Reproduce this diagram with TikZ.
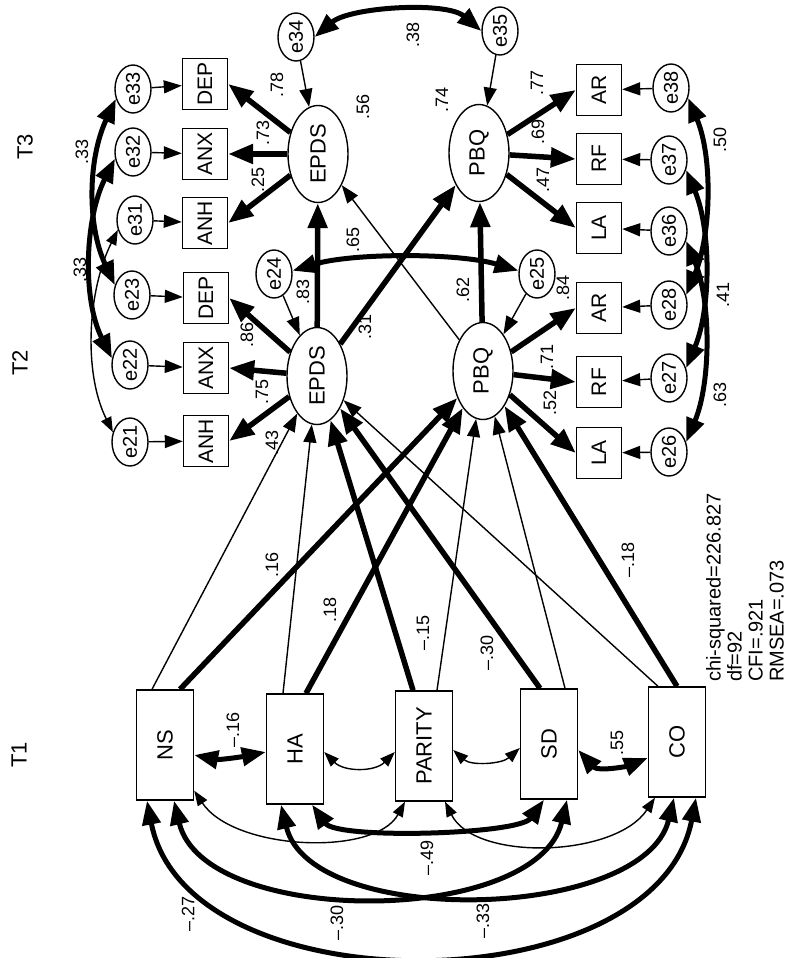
\documentclass[tikz,border=0pt]{standalone}
\usepackage{fontspec}
\setmainfont{Liberation Sans}
\usepackage{graphicx}
\usetikzlibrary{shapes.geometric, arrows.meta, calc}
\newcommand{\vtext}[1]{\rotatebox{90}{\makebox[0pt]{#1}}}

\begin{document}
\begin{tikzpicture}[x=1pt, y=-1pt,
  t1box/.style={rectangle, draw, fill=white, line width=1.4pt, minimum width=57pt, minimum height=110pt, inner sep=0pt, font=\fontsize{22}{22}\selectfont},
  indbox/.style={rectangle, draw, fill=white, line width=1.4pt, minimum width=45pt, minimum height=51pt, inner sep=0pt, font=\fontsize{21}{21}\selectfont},
  latent/.style={ellipse, draw, fill=white, line width=1.4pt, minimum width=60pt, minimum height=97pt, inner sep=0pt, font=\fontsize{22}{22}\selectfont},
  errc/.style={ellipse, draw, fill=white, line width=1.4pt, minimum width=36pt, minimum height=48pt, inner sep=0pt, font=\fontsize{20}{20}\selectfont},
  bigarr/.style={line width=5.5pt, -{Triangle[length=25pt, width=19pt]}},
  thinarr/.style={line width=1.4pt, -{Triangle[length=18pt, width=13pt]}},
  bigcov/.style={line width=5pt, {Triangle[length=24pt, width=18pt]}-{Triangle[length=24pt, width=18pt]}},
  thincov/.style={line width=1.4pt, {Triangle[length=15pt, width=11pt]}-{Triangle[length=15pt, width=11pt]}},
  coef/.style={rotate=90, inner sep=0pt, font=\fontsize{18}{18}\selectfont},
  wavelbl/.style={rotate=90, inner sep=0pt, font=\fontsize{22}{22}\selectfont},
  fitlbl/.style={rotate=90, align=left, inner sep=0pt, font=\fontsize{20}{21}\selectfont},
]
  \useasboundingbox (0,0) rectangle (797,958);

  \node[wavelbl] (w1) at (19,755) {T1};
  \node[wavelbl] (w2) at (20,363) {T2};
  \node[wavelbl] (w3) at (25,147) {T3};

  \node[t1box] (NS) at (165,745) {\vtext{NS}};
  \node[t1box] (HA) at (295,749) {\vtext{HA}};
  \node[t1box] (PAR) at (424,746) {\vtext{PARITY}};
  \node[t1box] (SD) at (549,744) {\vtext{SD}};
  \node[t1box] (CO) at (677,742) {\vtext{CO}};

  \node[latent] (EPDS2) at (317,376) {\vtext{EPDS}};
  \node[latent] (PBQ2) at (483,371) {\vtext{PBQ}};
  \node[latent] (EPDS3) at (318,154) {\vtext{EPDS}};
  \node[latent] (PBQ3) at (479,153) {\vtext{PBQ}};

  \node[indbox] (ANH2) at (206,441) {\vtext{ANH}};
  \node[indbox] (ANX2) at (206,368) {\vtext{ANX}};
  \node[indbox] (DEP2) at (206,298) {\vtext{DEP}};
  \node[indbox] (ANH3) at (205,223) {\vtext{ANH}};
  \node[indbox] (ANX3) at (205,154) {\vtext{ANX}};
  \node[indbox] (DEP3) at (205,84) {\vtext{DEP}};
  \node[indbox] (AR3) at (599,90) {\vtext{AR}};
  \node[indbox] (RF3) at (599,159) {\vtext{RF}};
  \node[indbox] (LA3) at (599,228) {\vtext{LA}};
  \node[indbox] (AR2) at (599,308) {\vtext{AR}};
  \node[indbox] (RF2) at (599,382) {\vtext{RF}};
  \node[indbox] (LA2) at (599,453) {\vtext{LA}};

  \node[errc] (e21) at (130,442) {\vtext{e21}};
  \node[errc] (e22) at (130,365) {\vtext{e22}};
  \node[errc] (e23) at (132,295) {\vtext{e23}};
  \node[errc] (e31) at (135,220) {\vtext{e31}};
  \node[errc] (e32) at (133,152) {\vtext{e32}};
  \node[errc] (e33) at (133,89) {\vtext{e33}};
  \node[errc] (e24) at (274,274) {\vtext{e24}};
  \node[errc] (e34) at (296,37) {\vtext{e34}};
  \node[errc] (e35) at (500,31) {\vtext{e35}};
  \node[errc] (e25) at (537,274) {\vtext{e25}};
  \node[errc] (e38) at (671,88) {\vtext{e38}};
  \node[errc] (e37) at (669,160) {\vtext{e37}};
  \node[errc] (e36) at (669,231) {\vtext{e36}};
  \node[errc] (e28) at (669,305) {\vtext{e28}};
  \node[errc] (e27) at (669,378) {\vtext{e27}};
  \node[errc] (e26) at (669,452) {\vtext{e26}};

  \draw[thinarr] ($(NS.north)+(-13,0)$) -- (EPDS2);
  \draw[bigarr] ($(NS.north)+(15,0)$) -- (PBQ2);
  \draw[thinarr] ($(HA.north)+(-12,0)$) -- (EPDS2);
  \draw[bigarr] ($(HA.north)+(11,0)$) -- (PBQ2);
  \draw[bigarr] ($(PAR.north)+(-11,0)$) -- (EPDS2);
  \draw[thinarr] ($(PAR.north)+(13,0)$) -- (PBQ2);
  \draw[bigarr] ($(SD.north)+(-9,0)$) -- (EPDS2);
  \draw[thinarr] ($(SD.north)+(16,0)$) -- (PBQ2);
  \draw[thinarr] ($(CO.north)+(-19,0)$) -- (EPDS2);
  \draw[bigarr] ($(CO.north)+(0,0)$) -- (PBQ2);

  \draw[bigarr] (EPDS2) -- (EPDS3);
  \draw[bigarr] (EPDS2) -- (PBQ3);
  \draw[bigarr] (PBQ2) -- (PBQ3);
  \draw[thinarr] (PBQ2) -- (EPDS3);

  \draw[bigarr] (EPDS2) -- (ANH2.east);
  \draw[bigarr] (EPDS2) -- (ANX2.east);
  \draw[bigarr] (EPDS2) -- (DEP2.east);
  \draw[bigarr] (EPDS3) -- (ANH3.east);
  \draw[bigarr] (EPDS3) -- (ANX3.east);
  \draw[bigarr] (EPDS3) -- (DEP3.east);
  \draw[bigarr] (PBQ3) -- (AR3.west);
  \draw[bigarr] (PBQ3) -- (RF3.west);
  \draw[bigarr] (PBQ3) -- (LA3.west);
  \draw[bigarr] (PBQ2) -- (AR2.west);
  \draw[bigarr] (PBQ2) -- (RF2.west);
  \draw[bigarr] (PBQ2) -- (LA2.west);

  \draw[thinarr] (e21) -- (ANH2);
  \draw[thinarr] (e22) -- (ANX2);
  \draw[thinarr] (e23) -- (DEP2);
  \draw[thinarr] (e31) -- (ANH3);
  \draw[thinarr] (e32) -- (ANX3);
  \draw[thinarr] (e33) -- (DEP3);
  \draw[thinarr] (e38) -- (AR3);
  \draw[thinarr] (e37) -- (RF3);
  \draw[thinarr] (e36) -- (LA3);
  \draw[thinarr] (e28) -- (AR2);
  \draw[thinarr] (e27) -- (RF2);
  \draw[thinarr] (e26) -- (LA2);
  \draw[thinarr] (e24) -- (EPDS2);
  \draw[thinarr] (e25) -- (PBQ2);
  \draw[thinarr] (e34) -- (EPDS3);
  \draw[thinarr] (e35) -- (PBQ3);

  \draw[bigcov] (e34.east) .. controls +(35,-30) and +(-35,-30) .. (e35.west);
  \draw[bigcov] (e24.10) .. controls +(60,-18) and +(-60,-18) .. (e25.170);

  \draw[bigcov] (e33.210) .. controls +(-28,60) and +(-28,-60) .. (e23.150);
  \draw[bigcov] (e32.200) .. controls +(-30,60) and +(-30,-60) .. (e22.160);
  \draw[thincov] (e31.210) .. controls +(-30,60) and +(-30,-60) .. (e21.150);
  \draw[bigcov] (e38.330) .. controls +(25,60) and +(25,-60) .. (e28.30);
  \draw[bigcov] (e37.330) .. controls +(25,60) and +(25,-60) .. (e27.30);
  \draw[bigcov] (e36.330) .. controls +(25,60) and +(25,-60) .. (e26.30);

  \draw[bigcov] ($(NS.east)+(0,10)$) .. controls +(25,5) and +(-25,5) .. ($(HA.west)+(0,3)$);
  \draw[thincov] ($(HA.east)+(0,3)$) .. controls +(20,20) and +(-20,20) .. ($(PAR.west)+(0,6)$);
  \draw[thincov] ($(PAR.east)+(0,4)$) .. controls +(18,16) and +(-18,16) .. ($(SD.west)+(0,4)$);
  \draw[bigcov] ($(SD.east)+(0,6)$) .. controls +(20,22) and +(-20,8) .. ($(CO.west)+(0,16)$);

  \draw[bigcov] ($(NS.south)+(-18,0)$) .. controls +(40,208) and +(-40,208) .. ($(CO.south)+(19,0)$);
  \draw[bigcov] ($(NS.south)+(9,0)$) .. controls +(30,127) and +(-30,127) .. ($(SD.south)+(18,0)$);
  \draw[bigcov] ($(HA.south)+(-14,0)$) .. controls +(30,124) and +(-30,124) .. ($(CO.south)+(-3,0)$);
  \draw[bigcov] ($(HA.south)+(17,0)$) .. controls +(25,35) and +(-25,35) .. ($(SD.south)+(-5,0)$);
  \draw[thincov] ($(NS.south east)+(0,-10)$) .. controls +(40,60) and +(-30,55) .. ($(PAR.south)+(-19,0)$);
  \draw[thincov] ($(PAR.south)+(21,0)$) .. controls +(30,60) and +(-40,60) .. ($(CO.south)+(-22,0)$);

  \node[coef] (c1) at (272,565) {.16};
  \node[coef] (c2) at (330,610) {.18};
  \node[coef] (c3) at (423,633) {–.15};
  \node[coef] (c4) at (487,653) {–.30};
  \node[coef] (c5) at (628,560) {–.18};
  \node[coef] (c6) at (272,443) {.43};
  \node[coef] (c7) at (262,392) {.75};
  \node[coef] (c8) at (247,335) {.86};
  \node[coef] (c9) at (258,180) {.25};
  \node[coef] (c10) at (263,133) {.73};
  \node[coef] (c11) at (277,85) {.78};
  \node[coef] (c12) at (537,83) {.77};
  \node[coef] (c13) at (538,132) {.69};
  \node[coef] (c14) at (543,180) {.47};
  \node[coef] (c15) at (563,288) {.84};
  \node[coef] (c16) at (547,357) {.71};
  \node[coef] (c17) at (550,403) {.52};
  \node[coef] (c18) at (303,292) {.83};
  \node[coef] (c19) at (365,327) {.31};
  \node[coef] (c20) at (463,290) {.62};
  \node[coef] (c21) at (353,240) {.65};
  \node[coef] (c22) at (363,107) {.56};
  \node[coef] (c23) at (442,100) {.74};
  \node[coef] (c24) at (413,35) {.38};
  \node[coef] (c25) at (82,152) {.33};
  \node[coef] (c26) at (80,270) {.33};
  \node[coef] (c27) at (720,140) {.50};
  \node[coef] (c28) at (723,295) {.41};
  \node[coef] (c29) at (720,395) {.63};
  \node[coef] (c30) at (233,730) {–.16};
  \node[coef] (c31) at (617,743) {.55};
  \node[coef] (c32) at (188,914) {–.27};
  \node[coef] (c33) at (337,923) {–.30};
  \node[coef] (c34) at (427,858) {–.49};
  \node[coef] (c35) at (483,921) {–.33};

  \node[fitlbl, anchor=north west] (fit) at (706,682) {chi-squared=226.827\\df=92\\CFI=.921\\RMSEA=.073};
\end{tikzpicture}
\end{document}
